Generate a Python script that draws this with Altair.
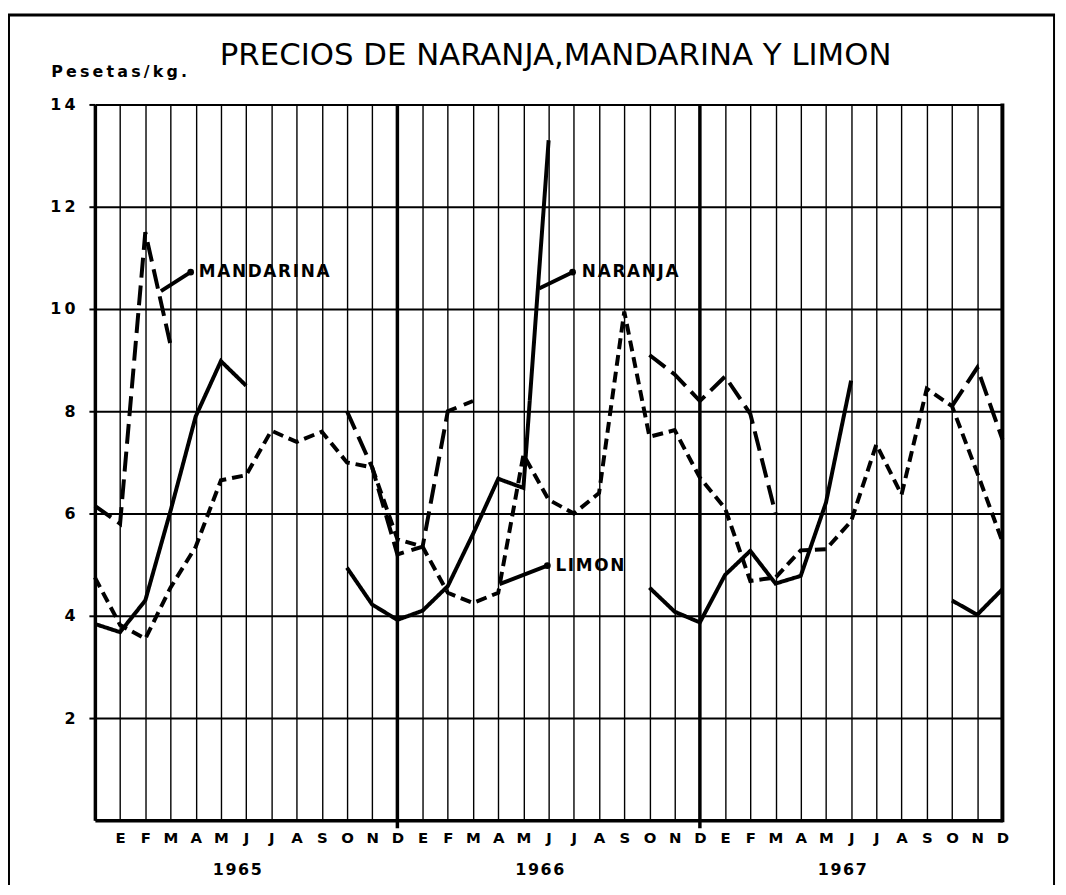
import json
import altair as alt
import pandas as pd

# ---------------- data ----------------
MONTH_LABELS = [""] + ["E", "F", "M", "A", "M", "J", "J", "A", "S", "O", "N", "D"] * 3
YEARS = ["1965", "1966", "1967"]
Y_TICKS = [2, 4, 6, 8, 10, 12, 14]

# month index 0 = Dic 1964, 1 = Ene 1965 ... 36 = Dic 1967 ; None = no quotation
NARANJA = [3.84, 3.68, 4.3, 6.05, 7.9, 8.98, 8.5, None, None, None,
           4.94, 4.22, 3.92, 4.1, 4.58, 5.6, 6.68, 6.5, 13.3, None,
           None, None, 4.55, 4.08, 3.87, 4.8, 5.27, 4.63, 4.78, 6.21,
           8.6, None, None, None, 4.3, 4.02, 4.52]
MANDARINA = [6.15, 5.8, 11.5, 9.3, None, None, None, None, None, None,
             8.0, 6.9, 5.2, 5.35, 8.0, 8.2, None, None, None, None,
             None, None, 9.1, 8.72, 8.2, 8.68, 7.95, 6.0, None, None,
             None, None, None, None, 8.1, 8.85, 7.45]
LIMON = [4.75, 3.82, 3.55, 4.55, 5.35, 6.65, 6.75, 7.62, 7.4, 7.6,
         7.0, 6.9, 5.5, 5.35, 4.45, 4.25, 4.45, 7.15, 6.27, 6.0,
         6.4, 9.95, 7.5, 7.63, 6.7, 6.1, 4.68, 4.75, 5.28, 5.3,
         5.85, 7.35, 6.37, 8.44, 8.1, 6.8, 5.45]

SERIES_NAMES = ["NARANJA", "MANDARINA", "LIMON"]
SERIES_VALUES = [NARANJA, MANDARINA, LIMON]

# label anchors (month index, value) and leader start points
LABEL_X = [19.2, 4.0, 18.15]
LABEL_Y = [10.72, 10.72, 4.98]
LEADER_X0 = [17.62, 2.62, 16.05]
LEADER_Y0 = [10.4, 10.35, 4.62]
LEADER_X1 = [18.95, 3.8, 17.95]
LEADER_Y1 = [10.72, 10.72, 4.98]

TITLE = "PRECIOS DE NARANJA,MANDARINA Y LIMON"
UNIT = "Pesetas/kg."

THIN = "\u2009"
HAIR = "\u200a"

# ---------------- build tables ----------------
rows = []
for name, vals in zip(SERIES_NAMES, SERIES_VALUES):
    seg = 0
    prev_none = False
    for i, v in enumerate(vals):
        if v is None:
            if not prev_none:
                seg += 1
            prev_none = True
            continue
        prev_none = False
        rows.append({"serie": name, "mes": i, "valor": v, "tramo": f"{name}-{seg}"})
df = pd.DataFrame(rows)

lab_df = pd.DataFrame({"serie": SERIES_NAMES, "mes": LABEL_X, "valor": LABEL_Y})
lab_df["txt"] = [HAIR.join(s) for s in SERIES_NAMES]
lead_rows = []
for n, x0, y0, x1, y1 in zip(SERIES_NAMES, LEADER_X0, LEADER_Y0, LEADER_X1, LEADER_Y1):
    lead_rows.append({"serie": n, "mes": x0, "valor": y0, "o": 0})
    lead_rows.append({"serie": n, "mes": x1, "valor": y1, "o": 1})
lead_df = pd.DataFrame(lead_rows)
dot_df = pd.DataFrame({"serie": SERIES_NAMES, "mes": LEADER_X1, "valor": LEADER_Y1})

year_df = pd.DataFrame({"year": [HAIR.join(y) for y in YEARS],
                        "mes": [12 * i + 5.65 for i in range(len(YEARS))]})

W, H = 914, 721
FONT = "DejaVu Sans"

xs = alt.Scale(domain=[0, 36], nice=False, zero=False)
ys = alt.Scale(domain=[0, 14], nice=False, zero=True)

label_expr = json.dumps(MONTH_LABELS) + "[datum.value]"

X = alt.X("mes:Q", scale=xs, title=None,
          axis=alt.Axis(values=list(range(0, 37)), grid=True, gridColor="black",
                        gridWidth=1.4, gridOpacity=1, tickSize=0, labelExpr=label_expr,
                        labelFont=FONT, labelFontWeight="bold", labelFontSize=15,
                        labelColor="black", labelPadding=10, labelFlush=False,
                        labelOverlap=False, domainColor="black", domainWidth=3.5))
Y = alt.Y("valor:Q", scale=ys, title=None,
          axis=alt.Axis(values=Y_TICKS, grid=True, gridColor="black", gridWidth=2,
                        gridOpacity=1, tickSize=6, tickWidth=2, tickColor="black",
                        labelExpr="join(split(datum.label, ''), '\u2009')",
                        labelFont=FONT, labelFontWeight="bold", labelFontSize=16,
                        labelColor="black", labelPadding=14, domainColor="black",
                        domainWidth=3.5))

dash = {"NARANJA": [1, 0], "MANDARINA": [20, 8], "LIMON": [11, 6]}

layers = []
for name in SERIES_NAMES:
    layers.append(
        alt.Chart(df[df.serie == name]).mark_line(
            color="black", strokeWidth=4, strokeDash=dash[name], strokeCap="butt",
            strokeJoin="miter", clip=False
        ).encode(x=X, y=Y, detail="tramo:N", order="mes:Q")
    )

# thick December lines
dec = alt.Chart(pd.DataFrame({"mes": [12, 24]})).mark_rule(
    color="black", strokeWidth=3.5).encode(x=X, y=alt.value(0), y2=alt.value(H + 8))
# right edge
right = alt.Chart(pd.DataFrame({"mes": [36]})).mark_rule(
    color="black", strokeWidth=4).encode(x=X, y=alt.value(-1), y2=alt.value(H + 2))

labels = alt.Chart(lab_df).mark_text(
    align="left", baseline="middle", font=FONT, fontWeight="bold", fontSize=17,
    color="black", dx=3).encode(x=X, y=Y, text="txt:N")
leaders = alt.Chart(lead_df).mark_line(color="black", strokeWidth=4).encode(
    x=X, y=Y, detail="serie:N", order="o:Q")
dots = alt.Chart(dot_df).mark_point(filled=True, color="black", size=45, opacity=1).encode(
    x=X, y=Y)

years = alt.Chart(year_df).mark_text(
    align="center", baseline="middle", font=FONT, fontWeight="bold", fontSize=16,
    color="black").encode(x=X, y=alt.value(H + 50), text="year:N")

title = alt.Chart(pd.DataFrame({"t": [TITLE]})).mark_text(
    align="center", baseline="alphabetic", font=FONT, fontSize=31, color="black"
).encode(x=alt.value(464), y=alt.value(-40), text="t:N")
unit = alt.Chart(pd.DataFrame({"t": [THIN.join(UNIT)]})).mark_text(
    align="left", baseline="alphabetic", font=FONT, fontWeight="bold", fontSize=16,
    color="black").encode(x=alt.value(-44), y=alt.value(-28), text="t:N")

# outer frame
frame_top = alt.Chart(pd.DataFrame({"k": [0]})).mark_rule(color="black", strokeWidth=3).encode(
    x=alt.value(-88), x2=alt.value(967), y=alt.value(-90))
frame_left = alt.Chart(pd.DataFrame({"k": [0]})).mark_rule(color="black", strokeWidth=3).encode(
    x=alt.value(-87), y=alt.value(-91), y2=alt.value(H + 70))
frame_right = alt.Chart(pd.DataFrame({"k": [0]})).mark_rule(color="black", strokeWidth=2).encode(
    x=alt.value(966), y=alt.value(-91), y2=alt.value(H + 70))

chart = alt.layer(
    dec, right, *layers, leaders, dots, labels, years, title, unit,
    frame_top, frame_left, frame_right
).properties(
    width=W, height=H,
    autosize=alt.AutoSizeParams(type="none"),
    padding={"left": 87.5, "top": 94, "right": 56, "bottom": 62},
    background="white",
).configure_view(stroke=None)

chart.save("out.html", embed_options={"renderer": "svg", "actions": False})
